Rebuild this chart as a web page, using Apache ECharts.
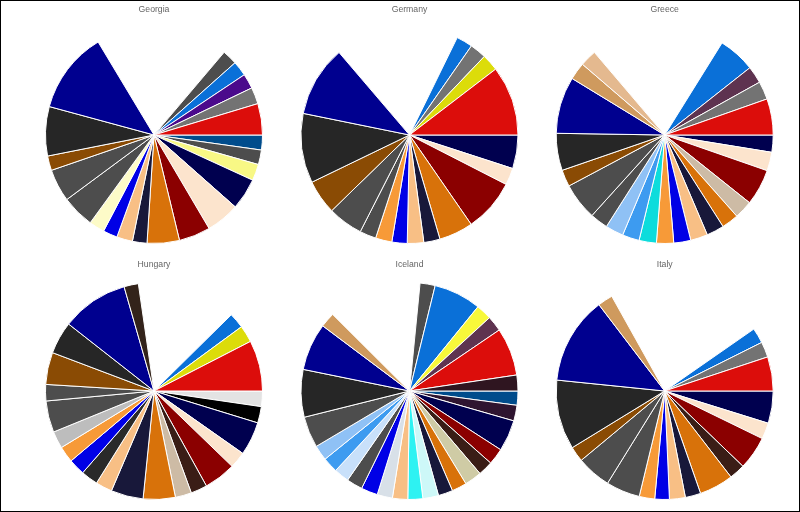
<!DOCTYPE html>
<html>
<head>
<meta charset="utf-8">
<style>
html, body { margin: 0; padding: 0; background: #fff; }
#chart { width: 800px; height: 512px; }
#frame { position: absolute; left: 0; top: 0; width: 800px; height: 512px; box-sizing: border-box; pointer-events: none; border: 1px solid #000; }
</style>
<script src="https://cdn.jsdelivr.net/npm/echarts@6/dist/echarts.min.js"></script>
</head>
<body>
<div id="chart"></div>
<div id="frame"></div>
<script>
// paises
const countries = ['Georgia', 'Germany', 'Greece', 'Hungary', 'Iceland', 'Italy'];

// slice sizes, clockwise from 3 o'clock. null colour = the empty wedge
const georgiaValues = [8, 7.8, 8.8, 16.9, 18, 16.9, 17.3, 7.8, 8.5, 7.7, 8.3, 17.5, 17.5, 7.8, 26.4, 43.8, 71.3, 8, 8, 8, 8.9, 16.8];
const germanyValues = [18, 9.1, 28.3, 18.3, 8.7, 8.8, 8.2, 8.8, 8.8, 18.8, 18.4, 37.3, 38, 66.6, 8.7, 8.8, 9, 37.4];
const greeceValues = [9.2, 10, 19.4, 9.8, 9.1, 9.4, 9.2, 9.1, 9.2, 9.3, 9.1, 9.7, 9.6, 19.9, 9, 19.9, 30.5, 9.3, 8.9, 72.3, 19.8, 9.2, 9.7, 19.4];
const hungaryValues = [8.3, 8.8, 18, 8.9, 17.1, 8.8, 8.7, 17.2, 17.3, 8.9, 9.1, 8.8, 8.7, 9.2, 16.9, 8.8, 17.2, 17.4, 35.9, 7.7, 53.7, 8.3, 9.1, 27.2];
const icelandValues = [7.6, 8.4, 16.8, 8.8, 7.9, 9.2, 8, 7.8, 8.4, 8, 8.2, 8.2, 8.9, 8.6, 8.1, 8.2, 8.2, 16.7, 25.5, 25.4, 8, 50.7, 8.1, 25.4, 8.4, 8.3, 25.7, 8.5];
const italyValues = [17.3, 8.7, 17.9, 8.5, 18.3, 8.3, 8.5, 7.8, 8.3, 18.2, 18.5, 8.2, 37.3, 46.9, 8.1, 84.4, 8.2, 8.3, 18.3];

const georgiaColors = ['#004c8c', '#4d4d4d', '#f8f885', '#00004f', '#fce4cd', '#8b0000', '#d8720a', '#18183a', '#f8bf85', '#0000e6', '#fdfbc8', '#4d4d4d', '#4d4d4d', '#8a4b04', '#262626', '#00008f', null, '#4d4d4d', '#0a70d8', '#4b0a8c', '#737373', '#dc0d0b'];
const germanyColors = ['#00004f', '#fce4cd', '#8b0000', '#d8720a', '#18183a', '#f8bf85', '#0000e6', '#f79a38', '#4d4d4d', '#4d4d4d', '#8a4b04', '#262626', '#00008f', null, '#0a70d8', '#737373', '#dcdc0a', '#dc0d0b'];
const greeceColors = ['#00004f', '#fce4cd', '#8b0000', '#cdbba5', '#d8720a', '#18183a', '#f8bf85', '#0000e6', '#f79a38', '#0ddcdc', '#3d9bf0', '#8fc1f5', '#4d4d4d', '#4d4d4d', '#8a4b04', '#262626', '#00008f', '#cf9a5e', '#e4b98f', null, '#0a70d8', '#5e3350', '#737373', '#dc0d0b'];
const hungaryColors = ['#e3e3e3', '#000000', '#00004f', '#fce4cd', '#8b0000', '#3a1d16', '#cdbba5', '#d8720a', '#18183a', '#f8bf85', '#2a2a2a', '#0000e6', '#f79a38', '#bdbdbd', '#4d4d4d', '#4d4d4d', '#8a4b04', '#262626', '#00008f', '#33231a', null, '#0a70d8', '#dcdc0a', '#dc0d0b'];
const icelandColors = ['#004c8c', '#2f1530', '#00004f', '#8b0000', '#3a1d16', '#cfcba5', '#d8720a', '#18183a', '#cdf8f8', '#2ef2f2', '#f8bf85', '#d8e0e8', '#0000e6', '#4d4d4d', '#c8e0fa', '#3d9bf0', '#8fc1f5', '#4d4d4d', '#262626', '#00008f', '#cf9a5e', null, '#4d4d4d', '#0a70d8', '#f8f83a', '#5e3350', '#dc0d0b', '#2f1520'];
const italyColors = ['#00004f', '#fce4cd', '#8b0000', '#3a1d16', '#d8720a', '#18183a', '#f8bf85', '#0000e6', '#f79a38', '#4d4d4d', '#4d4d4d', '#8a4b04', '#262626', '#00008f', '#cf9a5e', null, '#0a70d8', '#737373', '#dc0d0b'];

const allValues = [georgiaValues, germanyValues, greeceValues, hungaryValues, icelandValues, italyValues];
const allColors = [georgiaColors, germanyColors, greeceColors, hungaryColors, icelandColors, italyColors];

const centerX = [154, 409.5, 664.7];
const centerY = [135, 391];
const titleY = [5, 260];

const myChart = echarts.init(document.getElementById('chart'));

const title = countries.map((name, i) => ({
    text: name,
    left: centerX[i % 3],
    top: titleY[Math.floor(i / 3)],
    padding: 0,
    textAlign: 'center',
    textStyle: { fontFamily: 'Liberation Sans', fontSize: 8.7, fontWeight: 'normal', color: '#666' }
}));

const series = countries.map((name, i) => ({
    name: name,
    type: 'pie',
    center: [centerX[i % 3], centerY[Math.floor(i / 3)]],
    radius: [1.5, 108.5],
    startAngle: 0,
    clockwise: true,
    animation: false,
    silent: true,
    label: { show: false },
    labelLine: { show: false },
    data: allValues[i].map((v, j) => ({
        value: v,
        itemStyle: allColors[i][j]
            ? { color: allColors[i][j], borderColor: '#fff', borderWidth: 1 }
            : { color: 'transparent', borderWidth: 0 }
    }))
}));

myChart.setOption({ backgroundColor: '#fff', title: title, series: series });
</script>
</body>
</html>
